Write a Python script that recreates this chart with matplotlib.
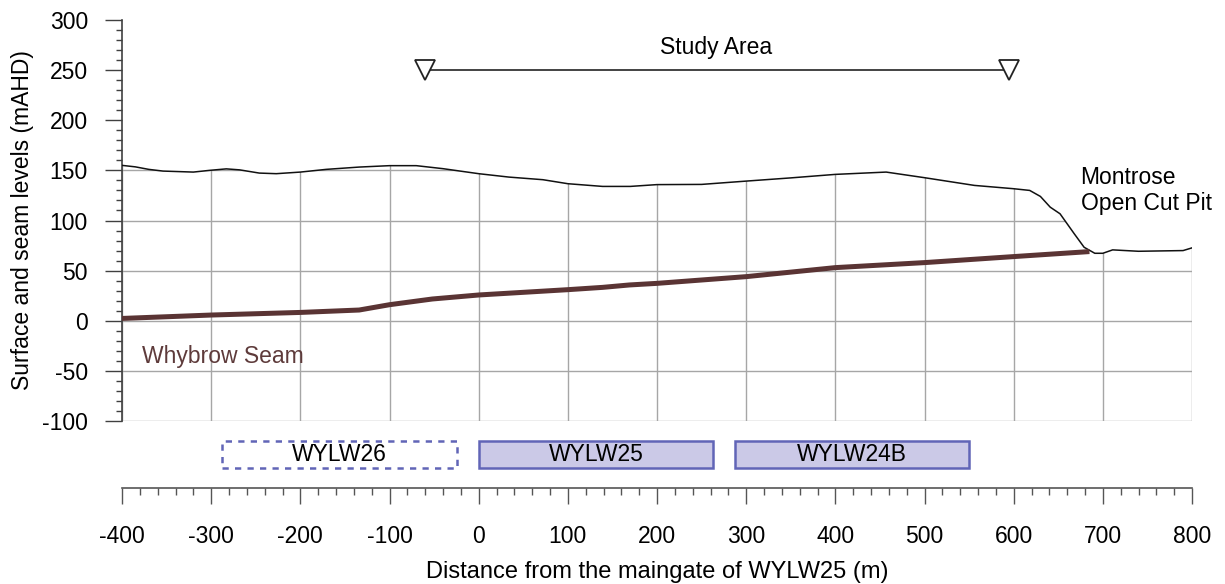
import numpy as np
import matplotlib
matplotlib.use('Agg')
import matplotlib.pyplot as plt
from matplotlib.patches import Polygon, Rectangle
from matplotlib.ticker import MultipleLocator

plt.rcParams['font.family'] = ['Liberation Sans', 'DejaVu Sans']
plt.rcParams['axes.unicode_minus'] = False

# ground surface profile (m, mAHD)
surf_x = [-400, -385, -370, -354, -320, -302, -283, -268, -246, -227, -200, -171,
          -134, -100, -70, -40, 0, 34, 72, 100, 139, 170, 200, 250, 300, 350, 400,
          457, 500, 556, 600, 618, 630, 641, 652, 668, 679, 691, 700, 711, 740, 790, 800]
surf_y = [155, 153.5, 151, 149.3, 148.3, 150, 151.5, 150.5, 147.3, 146.7, 148.3, 151,
          153.3, 154.7, 154.7, 151.7, 146.7, 143.3, 140.7, 136.7, 134, 134, 135.8, 136, 139.3, 142.5, 146,
          148.3, 142.7, 135, 131.7, 130, 124, 113.3, 106.7, 86.7, 73.3, 67.3, 67.3, 70.7, 69.3, 70, 72.7]

# Whybrow seam floor
seam_x = [-400, -300, -200, -134, -100, -52, 0, 100, 139, 169, 200, 300, 400, 500, 600, 685]
seam_y = [2.3, 5.7, 8.3, 10.7, 16, 21.7, 25.7, 31, 33.3, 35.7, 37.3, 44, 53, 58, 64, 69]

# longwall panels
panel_names = ['WYLW26', 'WYLW25', 'WYLW24B']
panel_start = [-288, 0, 287]
panel_end = [-24, 263, 550]
panel_future = [True, False, False]

study_x = [-60, 595]
study_level = 250

seam_col = '#5a3434'
grid_col = '#a6a6a6'
axis_col = '#404040'
box_face = '#cbc9e7'
box_edge = '#6165b7'
fs = 16.5

fig = plt.figure(figsize=(12.25, 5.84), dpi=100)
ax = fig.add_axes([122/1225, 1 - 421/584, 1070/1225, 401/584])
ax2 = fig.add_axes([122/1225, 1 - 488/584, 1070/1225, 58/584])

# grid only below the ground surface
clip = Polygon([(-410, surf_y[0])] + list(zip(surf_x, surf_y)) +
               [(810, surf_y[-1]), (810, -110), (-410, -110)],
               closed=True, facecolor='none', edgecolor='none')
ax.add_patch(clip)
for gx in range(-400, 801, 100):
    ln = ax.axvline(gx, color=grid_col, lw=1.0, zorder=1)
    ln.set_clip_path(clip)
for gy in range(-100, 151, 50):
    ln = ax.axhline(gy, color=grid_col, lw=1.0, zorder=1)
    ln.set_clip_path(clip)

ax.plot(surf_x, surf_y, color='#111111', lw=1.1, zorder=3)
ax.plot(seam_x, seam_y, color=seam_col, lw=3.6, solid_capstyle='butt', zorder=3)

# study area marker
ax.plot(study_x, [study_level] * 2, color='#111111', lw=1.1, zorder=3)
ax.plot(study_x, [study_level] * 2, ls='none', marker='v', ms=14,
        mfc='white', mec='#222222', mew=1.3, zorder=4)
ax.text(266, 273, 'Study Area', fontsize=fs, ha='center', va='center')

ax.text(675, 130, 'Montrose\nOpen Cut Pit', fontsize=fs, ha='left', va='center')
ax.text(-378, -36, 'Whybrow Seam', fontsize=fs, color='#5e3b3b', ha='left', va='center')

ax.set_xlim(-400, 800)
ax.set_ylim(-100, 300)
ax.set_xticks([])
ax.yaxis.set_major_locator(MultipleLocator(50))
ax.yaxis.set_minor_locator(MultipleLocator(10))
ax.tick_params(axis='y', which='major', length=12, width=1, pad=12.5,
               color=axis_col, labelsize=fs)
ax.tick_params(axis='y', which='minor', length=4.3, width=1, color=axis_col)
for s in ['top', 'right', 'bottom']:
    ax.spines[s].set_visible(False)
ax.spines['left'].set_color(axis_col)
ax.spines['left'].set_linewidth(1.2)
ax.set_ylabel('Surface and seam levels (mAHD)', fontsize=fs, labelpad=6)

# panel strip and distance axis
for name, x0, x1, fut in zip(panel_names, panel_start, panel_end, panel_future):
    if fut:
        r = Rectangle((x0, 20), x1 - x0, 27, facecolor='none', edgecolor=box_edge,
                      lw=1.8, ls=(0, (2.5, 2.5)))
    else:
        r = Rectangle((x0, 20), x1 - x0, 27, facecolor=box_face, edgecolor=box_edge, lw=1.8)
    ax2.add_patch(r)
    ax2.text((x0 + x1) / 2, 33.5, name, fontsize=fs, ha='center', va='center')

ax2.set_xlim(-400, 800)
ax2.set_ylim(0, 58)
ax2.set_yticks([])
for s in ['top', 'right', 'left']:
    ax2.spines[s].set_visible(False)
ax2.spines['bottom'].set_color('#555555')
ax2.spines['bottom'].set_linewidth(1.2)
ax2.xaxis.set_major_locator(MultipleLocator(100))
ax2.xaxis.set_minor_locator(MultipleLocator(20))
ax2.tick_params(axis='x', which='major', length=11.5, width=1, pad=15,
                color='#555555', labelsize=fs)
ax2.tick_params(axis='x', which='minor', length=5, width=1, color='#555555')
ax2.set_xlabel('Distance from the maingate of WYLW25 (m)', fontsize=17, labelpad=9.5)
ax2.patch.set_alpha(0)

fig.savefig('out.png', dpi=100)
